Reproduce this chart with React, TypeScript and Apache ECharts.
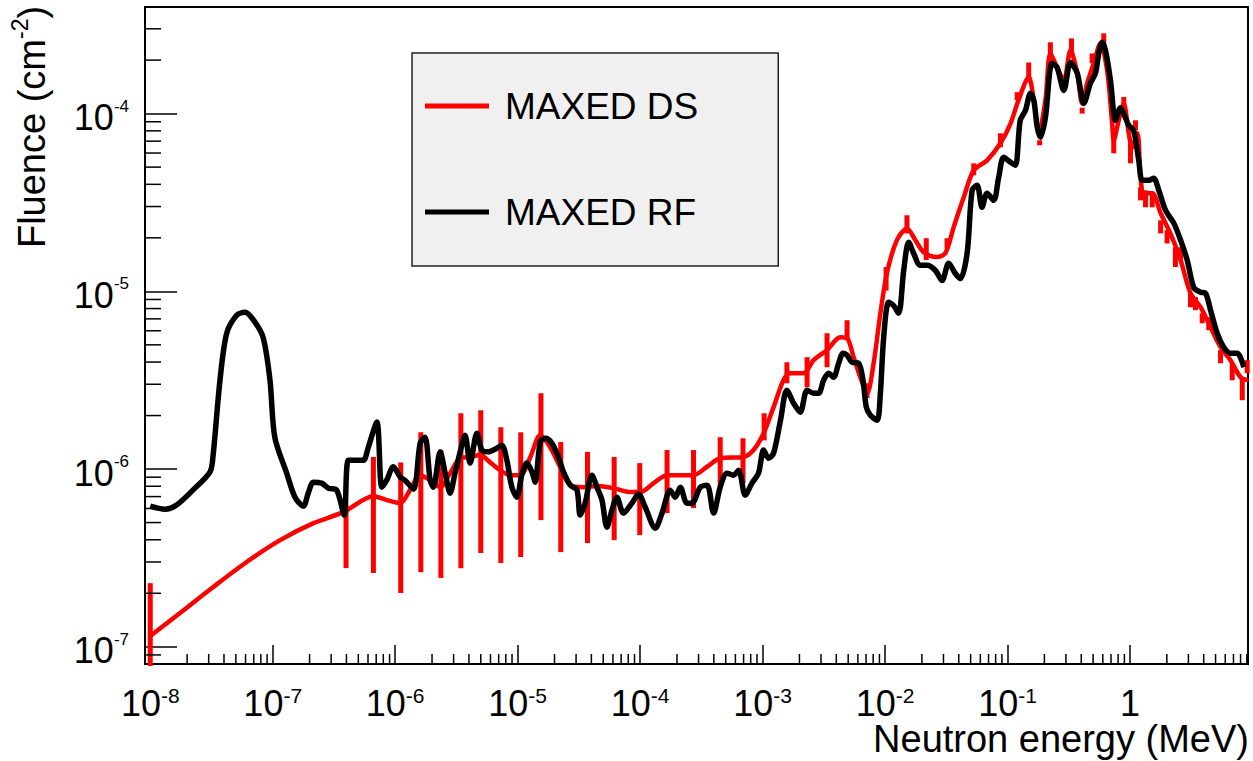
import React, { useEffect, useRef } from "react";
import * as echarts from "echarts";

// ---- Axis ranges (MeV, cm^-2) ----
const X_MIN = 9.06e-9;
const X_MAX = 9.2;
const Y_MIN = 8.0e-8;
const Y_MAX = 3.98e-4;

// ---- MAXED RF (black) ----
const rfEnergy = [
  1.0e-8, 1.32e-8, 1.64e-8, 2.23e-8, 3.07e-8, 3.25e-8, 3.71e-8, 4.21e-8, 5.08e-8, 5.94e-8,
  7.16e-8, 8.38e-8, 9.5e-8, 1.04e-7, 1.3e-7, 1.52e-7, 1.78e-7, 1.95e-7, 2.15e-7, 2.51e-7,
  2.85e-7, 3.33e-7, 3.83e-7, 4.15e-7, 4.85e-7, 5.5e-7, 6.04e-7, 7.08e-7, 7.78e-7, 8.53e-7,
  9.66e-7, 1.1e-6, 1.2e-6, 1.41e-6, 1.6e-6, 1.75e-6, 1.93e-6, 2.05e-6, 2.33e-6, 2.56e-6,
  2.81e-6, 3.08e-6, 3.5e-6, 3.72e-6, 4.09e-6, 4.65e-6, 5.1e-6, 5.77e-6, 6.76e-6, 7.43e-6,
  8.17e-6, 8.97e-6, 9.85e-6, 1.08e-5, 1.19e-5, 1.31e-5, 1.39e-5, 1.53e-5, 1.68e-5, 1.9e-5,
  2.15e-5, 2.37e-5, 2.69e-5, 3.05e-5, 3.24e-5, 3.56e-5, 4.04e-5, 4.44e-5, 4.88e-5, 5.36e-5,
  5.89e-5, 6.46e-5, 7.31e-5, 8.57e-5, 9.7e-5, 1.1e-4, 1.33e-4, 1.51e-4, 1.76e-4, 1.94e-4,
  2.13e-4, 2.41e-4, 2.65e-4, 3.1e-4, 3.52e-4, 3.98e-4, 4.51e-4, 5.12e-4, 5.79e-4, 6.37e-4,
  7.22e-4, 8.19e-4, 9.27e-4, 1.02e-3, 1.12e-3, 1.23e-3, 1.4e-3, 1.58e-3, 1.79e-3, 2.03e-3,
  2.31e-3, 2.61e-3, 2.87e-3, 3.15e-3, 3.46e-3, 3.8e-3, 4.18e-3, 4.54e-3, 4.9e-3, 5.37e-3,
  6.08e-3, 6.61e-3, 7.03e-3, 7.59e-3, 8.61e-3, 9.16e-3, 9.75e-3, 1.07e-2, 1.17e-2, 1.29e-2,
  1.42e-2, 1.56e-2, 1.71e-2, 1.94e-2, 2.2e-2, 2.58e-2, 2.92e-2, 3.31e-2, 3.75e-2, 4.12e-2,
  4.68e-2, 5.14e-2, 5.65e-2, 6.19e-2, 6.81e-2, 7.71e-2, 8.47e-2, 9.31e-2, 0.106, 0.116,
  0.127, 0.14, 0.154, 0.164, 0.175, 0.186, 0.204, 0.231, 0.254, 0.288,
  0.327, 0.371, 0.42, 0.475, 0.523, 0.556, 0.593, 0.631, 0.693, 0.762,
  0.836, 0.89, 0.977, 1.07, 1.18, 1.26, 1.43, 1.56, 1.72, 1.95,
  2.28, 2.59, 2.93, 3.32, 3.77, 4.14, 4.55, 5.15, 5.83, 6.62,
  7.52, 8.51,
];
const rfFluence = [
  6.19e-7, 5.95e-7, 6.27e-7, 7.61e-7, 9.61e-7, 1.17e-6, 3.16e-6, 5.81e-6, 7.34e-6, 7.63e-6,
  6.71e-6, 5.45e-6, 3.16e-6, 1.51e-6, 9.48e-7, 6.95e-7, 6.19e-7, 7.32e-7, 8.44e-7, 8.33e-7,
  7.81e-7, 7.61e-7, 5.51e-7, 1.12e-6, 1.12e-6, 1.12e-6, 1.33e-6, 1.84e-6, 7.91e-7, 8.66e-7,
  1.03e-6, 9.01e-7, 8.66e-7, 7.71e-7, 1.4e-6, 1.51e-6, 8.66e-7, 7.91e-7, 1.25e-6, 9.48e-7,
  7.32e-7, 9.48e-7, 1.36e-6, 1.55e-6, 1.08e-6, 1.59e-6, 1.28e-6, 1.25e-6, 1.31e-6, 1.36e-6,
  1.12e-6, 7.91e-7, 6.95e-7, 9.24e-7, 1.08e-6, 9.61e-7, 8.44e-7, 1.42e-6, 1.49e-6, 1.4e-6,
  1.17e-6, 9.61e-7, 8.12e-7, 7.61e-7, 5.51e-7, 6.43e-7, 9.24e-7, 7.91e-7, 6.69e-7, 4.71e-7,
  5.87e-7, 6.95e-7, 5.65e-7, 6.43e-7, 7.23e-7, 6.11e-7, 4.65e-7, 5.65e-7, 7.61e-7, 6.95e-7,
  7.91e-7, 6.43e-7, 6.43e-7, 7.91e-7, 8.12e-7, 5.65e-7, 7.91e-7, 9.48e-7, 9.24e-7, 9.86e-7,
  7.13e-7, 8.33e-7, 9.48e-7, 1.28e-6, 1.15e-6, 1.23e-6, 1.88e-6, 2.78e-6, 2.35e-6, 2.09e-6,
  2.78e-6, 2.67e-6, 2.67e-6, 3.16e-6, 3.46e-6, 3.29e-6, 3.94e-6, 4.49e-6, 4.37e-6, 3.99e-6,
  3.94e-6, 3.16e-6, 2.23e-6, 2.01e-6, 1.88e-6, 2.67e-6, 5.52e-6, 8.68e-6, 8.35e-6, 7.53e-6,
  1.31e-5, 1.89e-5, 1.64e-5, 1.4e-5, 1.4e-5, 1.31e-5, 1.15e-5, 1.44e-5, 1.26e-5, 1.18e-5,
  1.64e-5, 3.7e-5, 3.95e-5, 2.97e-5, 3.56e-5, 3.25e-5, 4.38e-5, 5.68e-5, 5.32e-5, 5.12e-5,
  9.17e-5, 1.04e-4, 1.3e-4, 1.19e-4, 8.38e-5, 7.36e-5, 9.53e-5, 1.92e-4, 1.82e-4, 1.35e-4,
  1.94e-4, 1.69e-4, 1.14e-4, 1.48e-4, 1.69e-4, 2.18e-4, 2.52e-4, 2.27e-4, 1.54e-4, 9.17e-5,
  1.08e-4, 1.0e-4, 8.59e-5, 8.06e-5, 5.46e-5, 4.22e-5, 4.22e-5, 4.33e-5, 3.7e-5, 2.86e-5,
  2.42e-5, 1.94e-5, 1.5e-5, 1.05e-5, 9.89e-6, 9.76e-6, 7.83e-6, 5.81e-6, 4.85e-6, 4.49e-6,
  4.49e-6, 3.74e-6,
];

// ---- MAXED DS (red) ----
const dsEnergy = [
  1.0e-8, 1.75e-8, 3.27e-8, 6.13e-8, 1.15e-7, 2.15e-7, 3.77e-7, 6.64e-7, 8.53e-7, 1.1e-6,
  1.32e-6, 1.6e-6, 1.93e-6, 2.33e-6, 2.81e-6, 3.39e-6, 4.09e-6, 4.94e-6, 5.96e-6, 7.19e-6,
  8.68e-6, 1.05e-5, 1.27e-5, 1.53e-5, 1.84e-5, 2.22e-5, 2.69e-5, 3.45e-5, 4.44e-5, 6.06e-5,
  8.3e-5, 1.0e-4, 1.29e-4, 1.66e-4, 2.73e-4, 3.52e-4, 4.51e-4, 7.0e-4, 8.44e-4, 1.02e-3,
  1.23e-3, 1.48e-3, 1.68e-3, 2.16e-3, 2.61e-3, 3.36e-3, 4.31e-3, 4.9e-3, 5.54e-3, 6.28e-3,
  7.13e-3, 8.07e-3, 9.16e-3, 1.04e-2, 1.25e-2, 1.51e-2, 1.77e-2, 2.07e-2, 2.66e-2, 3.11e-2,
  3.63e-2, 4.39e-2, 5.3e-2, 6.81e-2, 8.75e-2, 0.106, 0.123, 0.149, 0.164, 0.18,
  0.204, 0.224, 0.254, 0.288, 0.327, 0.371, 0.407, 0.447, 0.506, 0.574,
  0.651, 0.715, 0.737, 0.81, 0.89, 0.977, 1.04, 1.15, 1.22, 1.3,
  1.52, 1.78, 2.14, 2.59, 3.12, 3.77, 4.55, 5.49, 6.62, 8.0,
  9.29,
];
const dsFluence = [
  1.15e-7, 1.55e-7, 2.17e-7, 3.0e-7, 3.98e-7, 4.96e-7, 5.72e-7, 7.04e-7, 6.69e-7, 6.43e-7,
  7.61e-7, 9.24e-7, 8.66e-7, 7.91e-7, 9.48e-7, 1.15e-6, 1.17e-6, 1.2e-6, 1.09e-6, 9.86e-7,
  9.24e-7, 9.24e-7, 1.17e-6, 1.55e-6, 1.33e-6, 1.03e-6, 8.12e-7, 7.91e-7, 8.02e-7, 7.81e-7,
  7.42e-7, 7.42e-7, 8.33e-7, 9.24e-7, 9.24e-7, 1.03e-6, 1.15e-6, 1.17e-6, 1.28e-6, 1.59e-6,
  2.23e-6, 3.16e-6, 3.46e-6, 3.46e-6, 4.1e-6, 4.67e-6, 5.52e-6, 5.45e-6, 4.26e-6, 3.29e-6,
  2.67e-6, 3.94e-6, 7.53e-6, 1.28e-5, 1.94e-5, 2.26e-5, 1.94e-5, 1.66e-5, 1.56e-5, 1.64e-5,
  2.29e-5, 3.38e-5, 4.8e-5, 5.46e-5, 6.81e-5, 8.82e-5, 1.19e-4, 1.6e-4, 1.19e-4, 7.75e-5,
  1.19e-4, 2.18e-4, 1.82e-4, 1.54e-4, 2.27e-4, 1.69e-4, 1.14e-4, 1.48e-4, 1.92e-4, 2.49e-4,
  1.75e-4, 8.82e-5, 7.08e-5, 9.17e-5, 1.14e-4, 7.75e-5, 6.46e-5, 7.75e-5, 4.38e-5, 3.56e-5,
  3.56e-5, 2.75e-5, 2.12e-5, 1.5e-5, 9.76e-6, 8.14e-6, 6.28e-6, 4.85e-6, 4.1e-6, 3.29e-6,
  3.16e-6,
];

// ---- MAXED DS uncertainty bars ----
const errEnergy = [
  1.0e-8, 3.97e-7, 6.64e-7, 1.11e-6, 1.62e-6, 2.36e-6, 3.44e-6, 5.0e-6, 7.29e-6, 1.06e-5,
  1.55e-5, 2.25e-5, 3.72e-5, 6.14e-5, 9.93e-5, 1.66e-4, 2.73e-4, 4.51e-4, 6.92e-4, 1.03e-3,
  1.58e-3, 2.31e-3, 3.36e-3, 4.9e-3, 7.13e-3, 1.02e-2, 1.51e-2, 2.17e-2, 3.21e-2, 5.3e-2,
  8.75e-2, 0.12, 0.149, 0.183, 0.224, 0.333, 0.407, 0.491, 0.611, 0.737,
  0.89, 1.01, 1.11, 1.22, 1.34, 1.52, 1.78, 2.01, 2.35, 2.59,
  3.12, 3.43, 3.89, 4.4, 5.49, 6.84, 8.26, 9.07,
];
const errHigh = [
  2.28e-7, 6.27e-7, 1.17e-6, 1.09e-6, 1.61e-6, 1.28e-6, 2.06e-6, 2.14e-6, 1.72e-6, 1.61e-6,
  2.67e-6, 1.42e-6, 1.25e-6, 1.17e-6, 1.08e-6, 1.28e-6, 1.28e-6, 1.51e-6, 1.49e-6, 2.06e-6,
  3.99e-6, 4.26e-6, 5.81e-6, 6.88e-6, 3.04e-6, 1.37e-5, 2.68e-5, 1.99e-5, 1.99e-5, 5.25e-5,
  7.75e-5, 1.32e-4, 1.94e-4, 7.08e-5, 2.52e-4, 2.65e-4, 1.08e-4, 2.18e-4, 2.83e-4, 7.75e-5,
  1.24e-4, 6.81e-5, 9.17e-5, 3.85e-5, 3.7e-5, 3.56e-5, 2.51e-5, 2.21e-5, 1.77e-5, 1.77e-5,
  9.76e-6, 9.27e-6, 7.53e-6, 7.15e-6, 4.67e-6, 3.94e-6, 3.29e-6, 4.1e-6,
];
const errLow = [
  7.79e-8, 2.77e-7, 2.6e-7, 2.01e-7, 2.63e-7, 2.44e-7, 2.77e-7, 3.37e-7, 2.96e-7, 3.2e-7,
  5.16e-7, 3.41e-7, 3.83e-7, 3.98e-7, 4.25e-7, 5.65e-7, 6.03e-7, 7.91e-7, 8.33e-7, 1.45e-6,
  3.04e-6, 2.89e-6, 3.74e-6, 5.31e-6, 2.51e-6, 1.01e-5, 2.12e-5, 1.5e-5, 1.75e-5, 4.5e-5,
  6.46e-5, 1.19e-4, 1.5e-4, 6.63e-5, 1.99e-4, 2.13e-4, 1.0e-4, 1.92e-4, 2.49e-4, 5.98e-5,
  1.08e-4, 5.25e-5, 8.06e-5, 3.25e-5, 2.97e-5, 2.97e-5, 2.12e-5, 1.86e-5, 1.37e-5, 1.5e-5,
  8.14e-6, 7.83e-6, 6.61e-6, 6.04e-6, 3.94e-6, 3.16e-6, 2.44e-6, 3.46e-6,
];

// ---- Tick structure ----
const minorMultipliers = [2, 3, 4, 5, 6, 7, 8, 9];
const xDecades = [-9, -8, -7, -6, -5, -4, -3, -2, -1, 0];
const yDecades = [-8, -7, -6, -5, -4];

const FONT = '"Liberation Sans", Arial, Helvetica, sans-serif';
const RED = "#ff0000";
const BLACK = "#000000";

function decadeLabel(v: number): string {
  const e = Math.log10(v);
  const n = Math.round(e);
  if (Math.abs(e - n) > 1e-6) return "";
  if (n === 0) return "{b|1}";
  return "{b|10}{s|" + n + "}";
}

export default function App() {
  const ref = useRef<HTMLDivElement>(null);

  useEffect(() => {
    if (!ref.current) return;
    const chart = echarts.init(ref.current, null, { renderer: "svg" });

    const rfData = rfEnergy.map((e, i) => [e, rfFluence[i]]);
    const dsData = dsEnergy.map((e, i) => [e, dsFluence[i]]);
    const errData = errEnergy.map((e, i) => [e, errLow[i], errHigh[i]]);

    const xMinor: number[][] = [];
    xDecades.forEach((d) =>
      minorMultipliers.forEach((m) => {
        const v = m * Math.pow(10, d);
        if (v > X_MIN && v < X_MAX) xMinor.push([v, Y_MIN]);
      })
    );
    const yMinor: number[][] = [];
    yDecades.forEach((d) =>
      minorMultipliers.forEach((m) => {
        const v = m * Math.pow(10, d);
        if (v > Y_MIN && v < Y_MAX) yMinor.push([X_MIN, v]);
      })
    );

    const option: any = {
      animation: false,
      backgroundColor: "#ffffff",
      textStyle: { fontFamily: FONT },
      grid: {
        left: 145,
        right: 5,
        top: 7,
        bottom: 97,
        show: true,
        borderColor: BLACK,
        borderWidth: 2,
        backgroundColor: "transparent",
        containLabel: false,
        outerBoundsMode: "none",
      },
      legend: {
        orient: "vertical",
        left: 412,
        top: 53,
        data: ["MAXED DS", "MAXED RF"],
        backgroundColor: "#f0f0f0",
        borderColor: "#222222",
        borderWidth: 1.5,
        borderRadius: 0,
        padding: [33, 80, 34, 13],
        itemWidth: 64,
        itemHeight: 5,
        itemGap: 66,
        icon: "rect",
        selectedMode: false,
        textStyle: {
          fontSize: 37,
          fontFamily: FONT,
          color: BLACK,
          lineHeight: 40,
          padding: [0, 0, 0, 11],
        },
      },
      xAxis: {
        type: "log",
        logBase: 10,
        min: X_MIN,
        max: X_MAX,
        axisLine: { show: true, lineStyle: { color: BLACK, width: 2 } },
        axisTick: { show: true, inside: true, length: 19, lineStyle: { color: BLACK, width: 1.5 } },
        splitLine: { show: false },
        axisLabel: {
          show: true,
          margin: 21,
          formatter: decadeLabel,
          rich: {
            b: { fontSize: 36, lineHeight: 36, color: BLACK, fontFamily: FONT },
            s: { fontSize: 21, lineHeight: 8, verticalAlign: "top", color: BLACK, fontFamily: FONT },
          },
        },
      },
      yAxis: {
        type: "log",
        logBase: 10,
        min: Y_MIN,
        max: Y_MAX,
        axisLine: { show: true, lineStyle: { color: BLACK, width: 2 } },
        axisTick: { show: true, inside: true, length: 32, lineStyle: { color: BLACK, width: 1.5 } },
        splitLine: { show: false },
        axisLabel: {
          show: true,
          margin: 16,
          formatter: decadeLabel,
          padding: [8, 0, 0, 0],
          rich: {
            b: { fontSize: 36, lineHeight: 40, color: BLACK, fontFamily: FONT },
            s: { fontSize: 17, lineHeight: 22, verticalAlign: "top", color: BLACK, fontFamily: FONT },
          },
        },
      },
      graphic: [
        {
          type: "text",
          x: 1249,
          y: 739,
          silent: true,
          style: {
            text: "Neutron energy (MeV)",
            fontSize: 38,
            fontFamily: FONT,
            fill: BLACK,
            align: "right",
            verticalAlign: "middle",
            lineHeight: 32,
          },
        },
        {
          type: "text",
          x: 32,
          y: 127,
          rotation: Math.PI / 2,
          silent: true,
          style: {
            text: "Fluence (cm{s|-2})",
            fontSize: 38,
            fontFamily: FONT,
            fill: BLACK,
            align: "center",
            verticalAlign: "middle",
            lineHeight: 48,
            rich: {
              s: { fontSize: 23, lineHeight: 20, verticalAlign: "top", fontFamily: FONT, fill: BLACK },
            },
          },
        },
      ],
      series: [
        {
          name: "DS uncertainty",
          type: "custom",
          silent: true,
          z: 2,
          data: errData,
          encode: { x: 0, y: [1, 2] },
          renderItem: (params: any, api: any) => {
            const x = api.value(0);
            const p1 = api.coord([x, api.value(1)]);
            const p2 = api.coord([x, api.value(2)]);
            return {
              type: "line",
              shape: { x1: p1[0], y1: p1[1], x2: p2[0], y2: p2[1] },
              style: { stroke: RED, lineWidth: 5 },
            };
          },
        },
        {
          name: "MAXED DS",
          type: "line",
          data: dsData,
          z: 3,
          smooth: 0.3,
          symbol: "none",
          showSymbol: false,
          color: RED,
          lineStyle: { color: RED, width: 4.5 },
        },
        {
          name: "MAXED RF",
          type: "line",
          data: rfData,
          z: 4,
          smooth: 0.3,
          symbol: "none",
          showSymbol: false,
          color: BLACK,
          lineStyle: { color: BLACK, width: 5.5 },
        },
        {
          name: "x minor ticks",
          type: "custom",
          silent: true,
          z: 5,
          data: xMinor,
          encode: { x: 0, y: 1 },
          renderItem: (params: any, api: any) => {
            const p = api.coord([api.value(0), api.value(1)]);
            return {
              type: "line",
              shape: { x1: p[0], y1: p[1], x2: p[0], y2: p[1] - 10 },
              style: { stroke: BLACK, lineWidth: 1.5 },
            };
          },
        },
        {
          name: "y minor ticks",
          type: "custom",
          silent: true,
          z: 5,
          data: yMinor,
          encode: { x: 0, y: 1 },
          renderItem: (params: any, api: any) => {
            const p = api.coord([api.value(0), api.value(1)]);
            return {
              type: "line",
              shape: { x1: p[0], y1: p[1], x2: p[0] + 16, y2: p[1] },
              style: { stroke: BLACK, lineWidth: 1.5 },
            };
          },
        },
      ],
    };

    chart.setOption(option);
    return () => chart.dispose();
  }, []);

  return (
    <div
      ref={ref}
      style={{ position: "fixed", left: 0, top: 0, width: 1253, height: 761, background: "#ffffff" }}
    />
  );
}
